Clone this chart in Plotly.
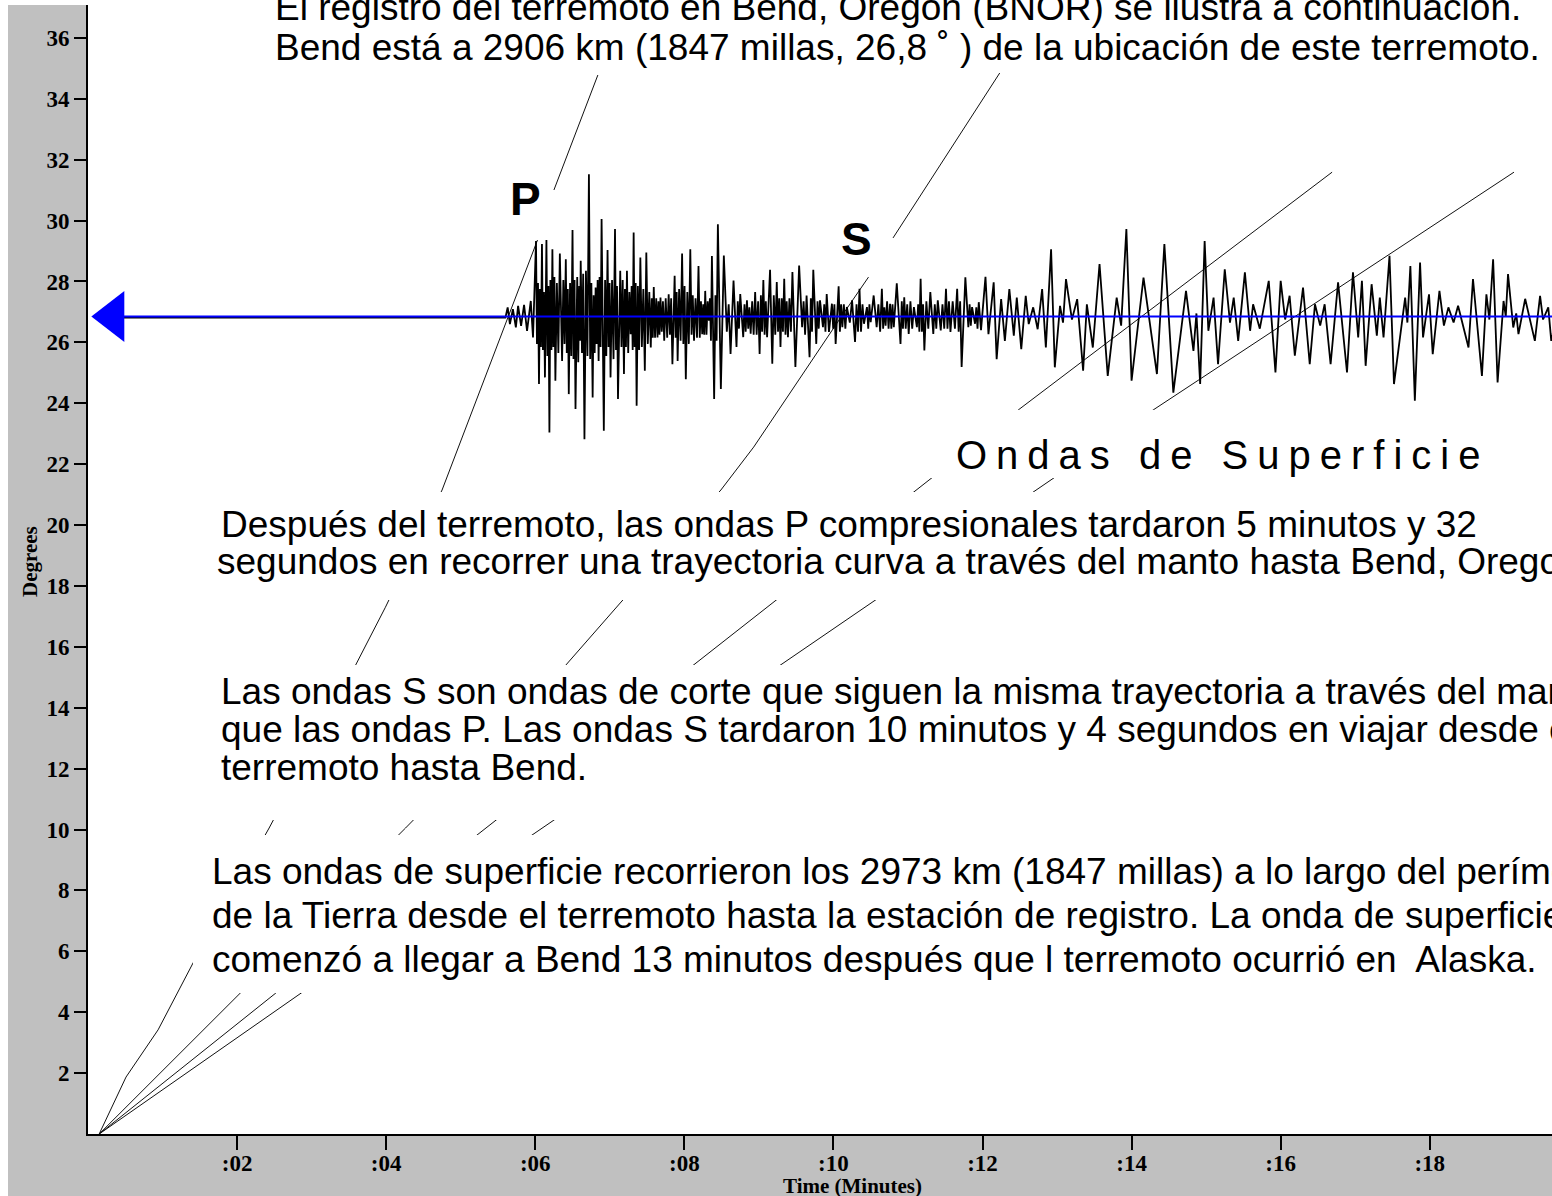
import plotly.graph_objects as go

# ---------------- data ----------------
station_deg = 26.85          # distance of Bend (BNOR) from the quake, degrees
arrow_t = 0.34               # time position of the blue arrow head

# travel-time curves: time (minutes) vs distance (degrees)
p_t   = [0.15, 0.51, 0.94, 1.41, 2.43, 3.59, 3.99, 4.75, 5.64, 6.03, 6.25, 6.84]
p_deg = [0.0, 1.87, 3.42, 5.62, 10.05, 15.4, 17.3, 21.15, 26.86, 29.36, 31.0, 34.78]
s_t   = [0.15, 1.51, 2.05, 4.26, 6.41, 7.14, 8.49, 8.93, 10.11, 10.47, 10.8, 12.24]
s_deg = [0.0, 3.32, 4.63, 10.05, 15.4, 17.44, 21.15, 22.56, 26.86, 28.14, 29.43, 34.88]
l_t   = [0.15, 2.52, 12.48, 16.69]
l_deg = [0.0, 4.63, 23.78, 31.59]
r_t   = [0.15, 2.86, 14.29, 19.13]
r_deg = [0.0, 4.63, 23.78, 31.59]

# seismogram: (time in minutes, offset from the station line in degrees)
seis_pre = [(0.30, -0.04), (5.60, -0.04)]
seis_p_onset = [
    (5.63, 0.30), (5.66, -0.25), (5.70, 0.24), (5.74, -0.36), (5.77, 0.35),
    (5.81, -0.31), (5.85, 0.38), (5.89, -0.47), (5.94, 0.51), (5.97, -0.69)]
seis_p_coda = [
    (6.01, 2.48), (6.023, -0.9), (6.037, 1.1), (6.05, -2.22), (6.063, 0.9), (6.077, -1.0),
    (6.09, 2.38), (6.103, -1.1), (6.117, 0.8), (6.13, -2.00), (6.15, 2.51), (6.163, -1.3),
    (6.177, 1.0), (6.19, -3.81), (6.203, 1.2), (6.217, -1.1), (6.23, 2.21), (6.243, -1.0),
    (6.257, 1.3), (6.27, -2.11), (6.29, 1.1), (6.31, -1.2), (6.33, 2.07), (6.36, -1.46),
    (6.377, 1.2), (6.393, -0.9), (6.41, 1.88), (6.423, -1.2), (6.437, 0.9), (6.45, -2.55),
    (6.467, 1.1), (6.483, -1.3), (6.50, 2.84), (6.513, -1.4), (6.527, 1.2), (6.54, -3.04),
    (6.563, 1.3), (6.577, -1.5), (6.59, 1.0), (6.60, -0.8), (6.61, 1.83), (6.627, -1.2),
    (6.643, 1.4), (6.66, -4.03), (6.68, 1.5), (6.70, -1.3), (6.72, 4.67), (6.737, -1.4),
    (6.753, 1.1), (6.77, -2.66), (6.783, 0.7), (6.797, -1.2), (6.81, 0.95), (6.823, -0.9),
    (6.837, 1.2), (6.85, -1.46), (6.863, 1.3), (6.877, -1.0), (6.89, 3.20), (6.92, -3.75),
    (6.937, 1.2), (6.953, -1.3), (6.97, 2.18), (6.983, -1.0), (6.997, 1.1), (7.01, -2.00),
    (7.03, 1.2), (7.05, -1.4), (7.07, 2.87), (7.083, -1.1), (7.097, 1.0), (7.11, -2.71),
    (7.14, 1.50), (7.157, -1.0), (7.173, 1.2), (7.19, -1.89), (7.203, 0.9), (7.217, -1.0),
    (7.23, 1.50), (7.247, -1.2), (7.263, 0.8), (7.28, -0.58), (7.293, 1.0), (7.307, -1.1),
    (7.32, 2.76), (7.333, -1.0), (7.347, 1.1), (7.36, -2.93), (7.377, 1.0), (7.393, -1.1),
    (7.41, 1.94), (7.43, -1.0), (7.45, 0.9), (7.47, -1.78), (7.49, 2.10), (7.51, -0.9),
    (7.53, 0.8), (7.55, -1.02), (7.563, 0.6), (7.577, -0.7), (7.59, 0.97), (7.607, -0.7),
    (7.623, 0.6), (7.64, -0.69), (7.653, 0.5), (7.667, -0.6), (7.68, 0.62), (7.697, -0.5),
    (7.713, 0.5), (7.73, -0.80), (7.75, 0.6), (7.77, -0.7), (7.79, 0.73), (7.807, -0.6),
    (7.823, 0.6), (7.84, -1.57), (7.87, 1.34), (7.883, -0.7), (7.897, 0.8), (7.91, -1.46),
    (7.93, 0.9), (7.95, -0.8), (7.97, 2.07), (7.987, -0.9), (8.003, 1.0), (8.02, -2.06),
    (8.04, 0.8), (8.06, -0.9), (8.08, 2.21), (8.097, -0.6), (8.113, 0.7), (8.13, -0.80),
    (8.15, 0.6), (8.17, -0.7), (8.19, 1.66), (8.207, -0.7), (8.223, 0.5), (8.24, -0.58),
    (8.253, 0.4), (8.267, -0.6), (8.28, 0.84), (8.297, -0.6), (8.313, 0.5), (8.33, -0.14),
    (8.343, 0.6), (8.357, -0.8), (8.37, 1.99), (8.40, -2.71), (8.417, 0.7), (8.433, -0.8),
    (8.45, 3.03)]
seis_s = [
    (8.49, -2.38), (8.53, 2.00), (8.57, -0.50), (8.595, 0.4), (8.62, -1.23), (8.66, 1.18),
    (8.70, -1.00), (8.717, 0.5), (8.733, -0.4), (8.75, 0.74), (8.79, -0.68), (8.807, 0.4),
    (8.823, -0.5), (8.84, 0.53), (8.857, -0.4), (8.873, 0.3), (8.89, -0.57), (8.91, 0.5),
    (8.93, -0.6), (8.95, 0.80), (8.97, -0.6), (8.99, 0.5), (9.01, -1.23), (9.027, 0.7),
    (9.043, -0.5), (9.06, 1.20), (9.077, -0.6), (9.093, 0.5), (9.11, -0.68), (9.15, 1.53),
    (9.18, -1.55), (9.20, 0.7), (9.22, -0.6), (9.24, 1.13), (9.257, -0.5), (9.273, 0.6),
    (9.29, -1.00), (9.307, 0.6), (9.323, -0.5), (9.34, 1.24), (9.357, -0.6), (9.373, 0.5),
    (9.39, -0.68), (9.41, 0.6), (9.43, -0.5), (9.45, 1.46), (9.49, -1.66), (9.54, 1.67),
    (9.58, -0.35), (9.60, 0.5), (9.62, -0.6), (9.64, 0.69), (9.68, -1.34), (9.697, 0.6),
    (9.713, -0.5), (9.73, 1.53), (9.77, -0.90), (9.787, 0.5), (9.803, -0.4), (9.82, 0.53),
    (9.86, -0.35), (9.877, 0.4), (9.893, -0.5), (9.91, 0.74), (9.94, -0.51), (9.98, 0.42),
    (9.997, -0.4), (10.013, 0.4), (10.03, -0.90), (10.07, 0.99), (10.087, -0.5), (10.103, 0.4),
    (10.12, -0.35), (10.14, 0.4), (10.16, -0.4), (10.18, 0.31), (10.22, -0.20), (10.25, 0.53),
    (10.29, -0.84), (10.31, 0.4), (10.33, -0.5), (10.35, 0.91), (10.37, -0.5), (10.39, 0.4),
    (10.41, -0.24), (10.45, 0.31), (10.467, -0.4), (10.483, 0.4), (10.50, -0.19), (10.54, 0.69),
    (10.58, -0.35), (10.603, 0.4), (10.627, -0.5), (10.65, 0.91), (10.667, -0.4), (10.683, 0.3),
    (10.70, -0.30), (10.72, 0.5), (10.74, -0.4), (10.76, 0.42), (10.777, -0.4), (10.793, 0.4),
    (10.81, -0.35), (10.85, 1.09), (10.90, -0.90), (10.917, 0.5), (10.933, -0.4), (10.95, 0.63),
    (10.97, -0.4), (10.99, 0.4), (11.01, -0.57), (11.033, 0.5), (11.057, -0.4), (11.08, 0.31),
    (11.12, -0.35), (11.137, 0.4), (11.153, -0.5), (11.17, 1.24), (11.187, -0.5), (11.203, 0.4),
    (11.22, -1.12), (11.247, 0.5), (11.273, -0.4), (11.30, 0.80), (11.34, -0.57), (11.36, 0.4),
    (11.38, -0.4), (11.40, 0.53), (11.44, -0.46), (11.463, 0.4), (11.487, -0.4), (11.51, 0.91),
    (11.53, -0.4), (11.55, 0.5), (11.57, -0.51), (11.60, 0.5), (11.63, -0.4), (11.66, 0.91),
    (11.68, -0.5), (11.70, 0.5), (11.72, -1.66), (11.77, 1.29), (11.81, -0.35), (11.827, 0.4),
    (11.843, -0.3), (11.86, 0.31), (11.90, -0.24), (11.917, 0.3), (11.933, -0.4), (11.95, 0.47),
    (11.98, -0.45)]
seis_surface = [
    (12.04, 1.30), (12.08, -0.58), (12.15, 1.12), (12.19, -1.40), (12.25, 0.57), (12.30, -0.80),
    (12.36, 0.90), (12.42, -0.63), (12.46, 0.62), (12.52, -1.07), (12.58, 0.68), (12.62, -0.25),
    (12.68, 0.30), (12.74, -0.42), (12.80, 0.90), (12.85, -1.02), (12.92, 2.21), (12.97, -1.67),
    (13.04, 0.35), (13.08, -0.20), (13.12, 1.23), (13.20, -0.10), (13.27, 0.57), (13.35, -1.78),
    (13.40, 0.40), (13.48, -1.02), (13.57, 1.72), (13.68, -1.95), (13.80, 0.62), (13.86, -0.30),
    (13.93, 2.87), (14.00, -2.11), (14.16, 1.28), (14.34, -1.89), (14.44, 2.38), (14.56, -2.50),
    (14.73, 0.84), (14.83, -1.13), (14.87, 0.10), (14.92, -2.22), (14.98, 2.48), (15.03, -0.47),
    (15.10, 0.62), (15.16, -1.57), (15.25, 1.55), (15.32, -0.20), (15.37, 0.62), (15.43, -0.80),
    (15.52, 1.45), (15.59, -0.47), (15.63, 0.40), (15.72, -0.40), (15.84, 1.17), (15.93, -1.84),
    (16.00, 1.17), (16.06, -0.10), (16.12, 0.68), (16.19, -1.29), (16.30, 0.95), (16.39, -1.57),
    (16.46, 0.40), (16.53, -0.30), (16.59, 0.40), (16.67, -1.57), (16.77, 1.12), (16.89, -1.84),
    (16.97, 1.45), (17.04, -0.69), (17.09, 1.17), (17.14, -1.62), (17.22, 1.06), (17.29, -0.63),
    (17.33, 0.62), (17.38, -0.69), (17.46, 1.99), (17.52, -2.22), (17.67, 0.62), (17.70, -0.20),
    (17.74, 1.66), (17.80, -2.77), (17.87, 1.77), (17.91, -0.69), (17.99, 0.73), (18.04, -1.24),
    (18.13, 0.84), (18.19, -0.30), (18.25, 0.30), (18.32, -0.20), (18.38, 0.35), (18.52, -1.02),
    (18.58, 1.23), (18.70, -1.95), (18.76, 0.73), (18.80, -0.10), (18.85, 1.88), (18.91, -2.17),
    (18.99, 0.51), (19.02, 0.00), (19.05, 1.39), (19.12, -0.36), (19.16, 0.10), (19.19, -0.58),
    (19.28, 0.58), (19.41, -0.80), (19.48, 0.68), (19.52, -0.10), (19.59, 0.30), (19.63, -0.80),
    (19.70, 0.00)]

x_tick_vals = [2, 4, 6, 8, 10, 12, 14, 16, 18]
x_tick_text = [":02", ":04", ":06", ":08", ":10", ":12", ":14", ":16", ":18"]
y_tick_vals = [2, 4, 6, 8, 10, 12, 14, 16, 18, 20, 22, 24, 26, 28, 30, 32, 34, 36]
y_tick_text = [str(v) for v in y_tick_vals]

# ---------------- layout geometry ----------------
W, H = 1552, 1196
L, R, T, B = 88, 0, 5, 62
X_MAX, Y_MAX = 19.64, 37.08
GRAY = "#C0C0C0"
SANS = "Liberation Sans, Arial, sans-serif"
SERIF = "Liberation Serif, Times New Roman, serif"


def fx(px):
    return (px - L) / (W - L - R)


def fy(py):
    return (H - B - py) / (H - T - B)


fig = go.Figure()

for tt, dd in [(p_t, p_deg), (s_t, s_deg), (l_t, l_deg), (r_t, r_deg)]:
    fig.add_trace(go.Scatter(x=tt, y=dd, mode="lines",
                             line=dict(color="#111111", width=1),
                             hoverinfo="skip", showlegend=False))

seis_all = seis_pre + seis_p_onset + seis_p_coda + seis_s + seis_surface
seis_t = [p[0] for p in seis_all]
seis_deg = [station_deg + p[1] for p in seis_all]
fig.add_trace(go.Scatter(x=seis_t, y=seis_deg, mode="lines",
                         line=dict(color="black", width=1.8),
                         hoverinfo="skip", showlegend=False))

fig.add_trace(go.Scatter(x=[arrow_t, X_MAX], y=[station_deg, station_deg],
                         mode="lines", line=dict(color="#0000FF", width=2),
                         hoverinfo="skip", showlegend=False, cliponaxis=False))

fig.add_trace(go.Scatter(x=[arrow_t], y=[station_deg], mode="markers",
                         marker=dict(symbol="triangle-left", size=44, color="#0000FF",
                                     line=dict(width=0)),
                         hoverinfo="skip", showlegend=False, cliponaxis=False))

shapes = []
# white strips at the very left / top of the image
shapes.append(dict(type="rect", xref="paper", yref="paper", x0=fx(0), x1=fx(8),
                   y0=fy(H), y1=fy(0), fillcolor="white", line_width=0, layer="below"))
shapes.append(dict(type="rect", xref="paper", yref="paper", x0=fx(0), x1=fx(W),
                   y0=fy(5), y1=fy(0), fillcolor="white", line_width=0, layer="below"))
# white text boxes hiding the travel-time curves
for x0, y0, x1, y1 in [(250, -5, W, 73), (500, 190, 556, 240), (835, 238, 895, 277),
                       (930, 410, W, 478), (205, 492, W, 600), (200, 665, W, 820),
                       (193, 835, W, 993)]:
    shapes.append(dict(type="rect", xref="paper", yref="paper", x0=fx(x0), x1=fx(x1),
                       y0=fy(y1), y1=fy(y0), fillcolor="white", line_width=0, layer="above"))

annotations = []


def note(text, x, y, size, xanchor="left", bold=False, ls=0, family=SANS, angle=0, color="black"):
    if ls:
        text = '<span style="letter-spacing:%spx">%s</span>' % (ls, text)
    annotations.append(dict(text=text, x=fx(x), y=fy(y), xref="paper", yref="paper",
                            xanchor=xanchor, yanchor="middle", showarrow=False,
                            textangle=angle, borderpad=0,
                            font=dict(family=family, size=size, color=color,
                                      weight="bold" if bold else "normal")))


TS = 37
note("El registro del terremoto en Bend, Oregon (BNOR) se ilustra a continuación.", 274, 8, TS)
note("Bend está a 2906 km (1847 millas, 26,8 ˚ ) de la ubicación de este terremoto.", 274, 47, TS)
note("P", 525, 199, 46, xanchor="center", bold=True)
note("S", 857, 239, 46, xanchor="center", bold=True)
note("Ondas de Superficie", 1222, 455, 40, xanchor="center", ls=9)
note("Después del terremoto, las ondas P compresionales tardaron 5 minutos y 32", 220, 524, TS)
note("segundos en recorrer una trayectoria curva a través del manto hasta Bend, Oregon.", 216, 561, TS)
note("Las ondas S son ondas de corte que siguen la misma trayectoria a través del manto", 220, 691, TS)
note("que las ondas P. Las ondas S tardaron 10 minutos y 4 segundos en viajar desde el", 220, 729, TS)
note("terremoto hasta Bend.", 220, 767, TS)
note("Las ondas de superficie recorrieron los 2973 km (1847 millas) a lo largo del perímetro", 211, 871, TS)
note("de la Tierra desde el terremoto hasta la estación de registro. La onda de superficie", 211, 915, TS)
note("comenzó a llegar a Bend 13 minutos después que l terremoto ocurrió en\u00a0 Alaska.", 211, 959, TS)
# axis titles
note("Degrees", 30, 562, 21, xanchor="center", bold=True, family=SERIF, angle=-90)
note("Time (Minutes)", 852, 1186, 21, xanchor="center", bold=True, family=SERIF)

tickfont = dict(family=SERIF, size=23, color="black", weight="bold")
fig.update_layout(
    width=W, height=H,
    margin=dict(l=L, r=R, t=T, b=B, pad=0),
    paper_bgcolor=GRAY, plot_bgcolor="white",
    showlegend=False,
    xaxis=dict(range=[0, X_MAX], tickvals=x_tick_vals, ticktext=x_tick_text,
               ticks="outside", ticklen=14, tickwidth=1.5, tickcolor="black",
               ticklabelstandoff=-7,
               showline=True, linecolor="black", linewidth=2, mirror=False,
               showgrid=False, zeroline=False, tickfont=tickfont, fixedrange=True),
    yaxis=dict(range=[0, Y_MAX], tickvals=y_tick_vals, ticktext=y_tick_text,
               ticks="outside", ticklen=12, tickwidth=1.5, tickcolor="black",
               showline=True, linecolor="black", linewidth=2,
               showgrid=False, zeroline=False, tickfont=tickfont, fixedrange=True),
    shapes=shapes,
    annotations=annotations,
)

fig.write_html("out.html", config={"displayModeBar": False},
               post_script="document.body.style.margin='0px';document.body.style.overflow='hidden';")
